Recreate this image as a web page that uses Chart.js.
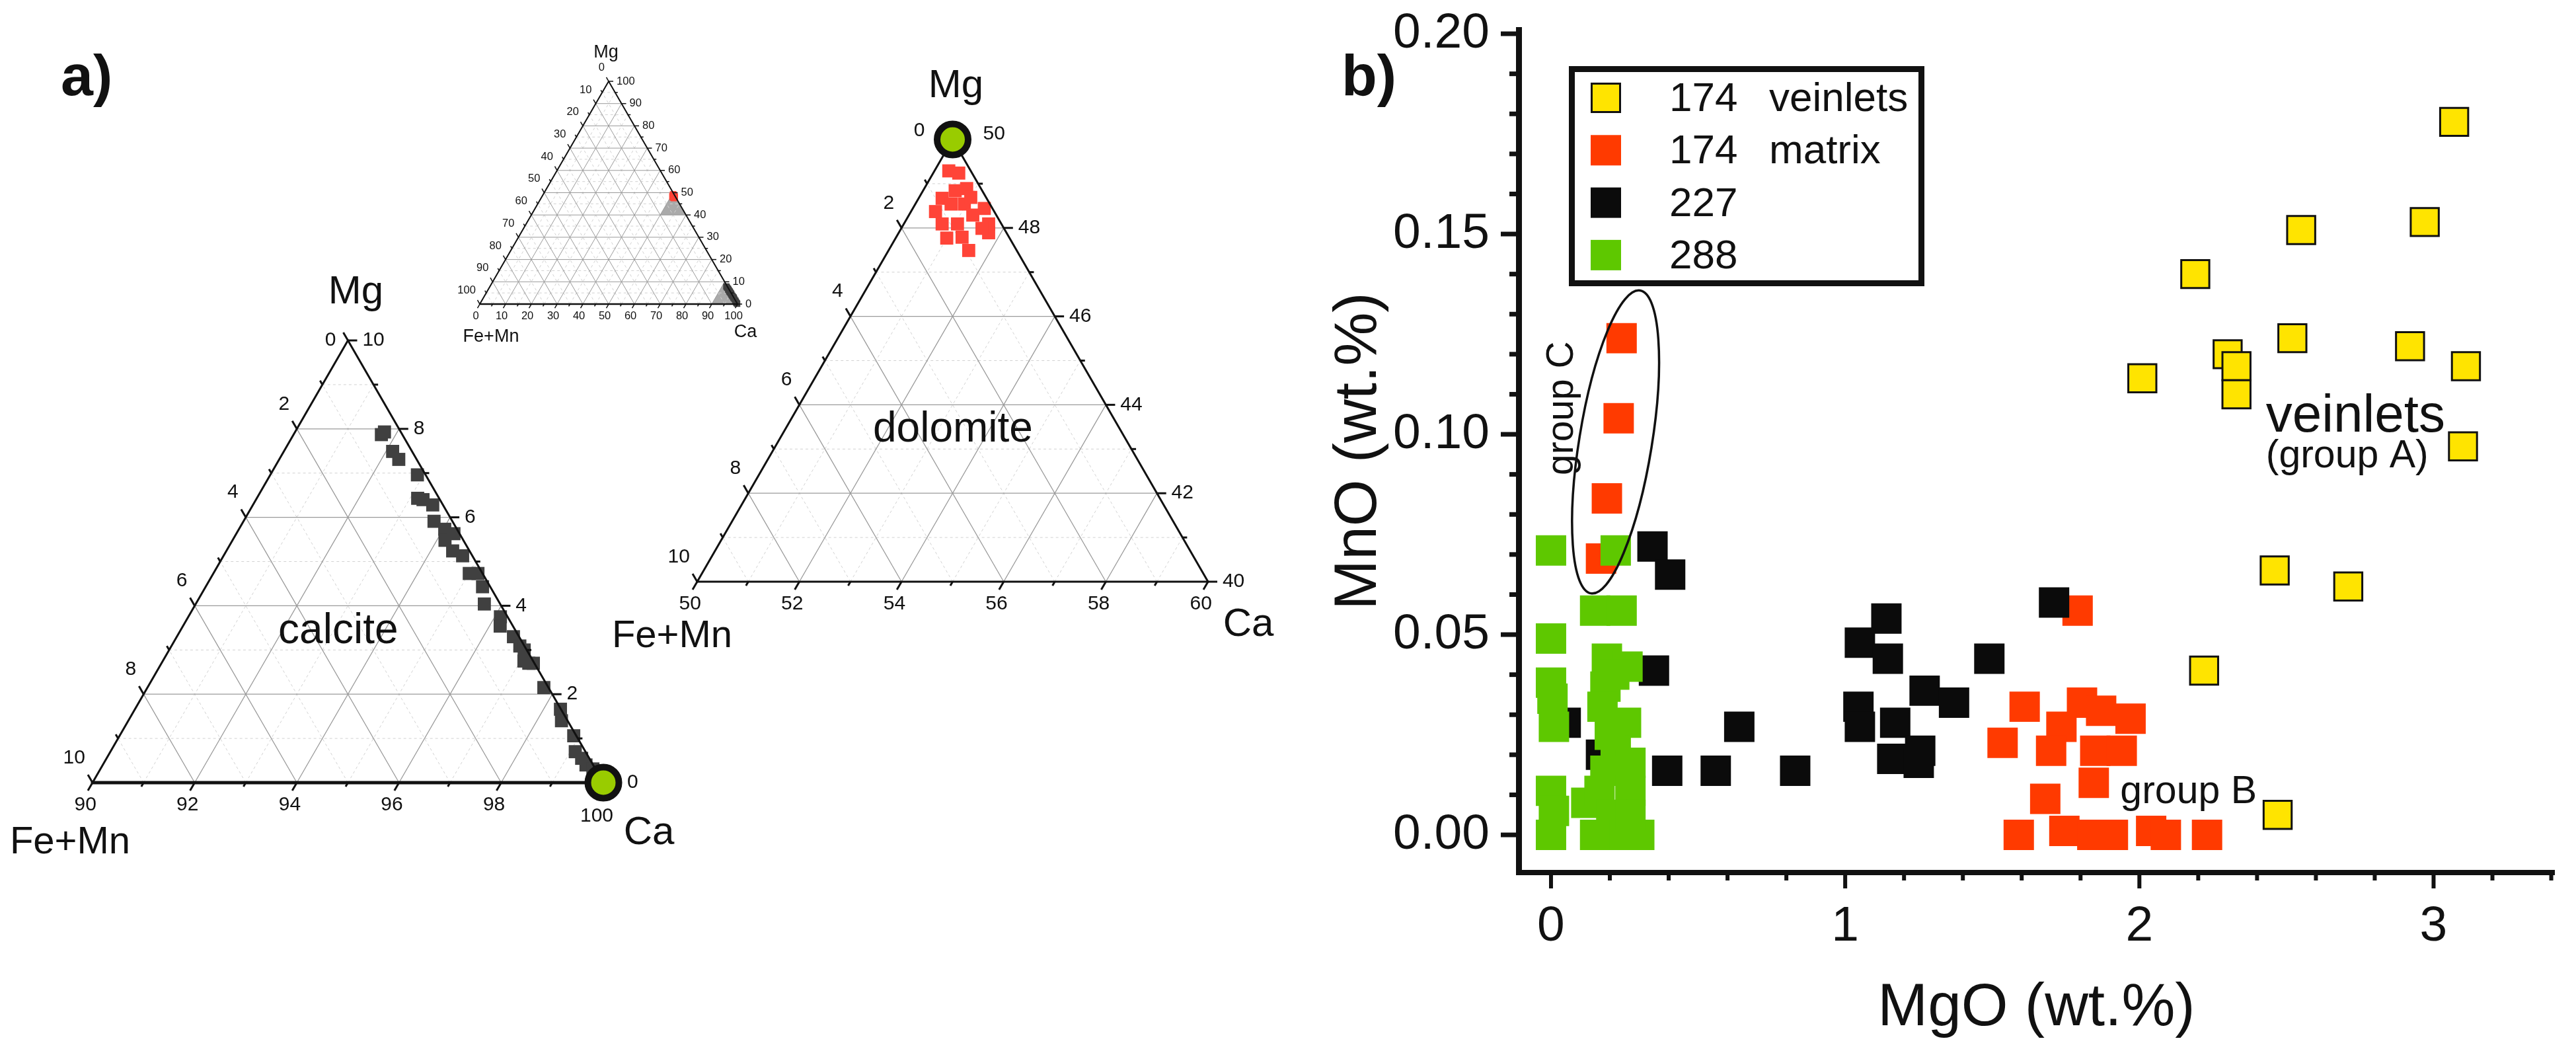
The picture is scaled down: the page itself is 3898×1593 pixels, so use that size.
<!DOCTYPE html>
<html lang="en">
<head>
<meta charset="utf-8">
<title>Carbonate composition</title>
<script src="https://cdn.jsdelivr.net/npm/chart.js@4.4.1/dist/chart.umd.min.js"></script>
<style>
  html, body { margin: 0; padding: 0; background: #fff; }
  body { position: relative; width: 3898px; height: 1593px; overflow: hidden;
         font-family: 'Liberation Sans', Arial, sans-serif; }
  canvas { position: absolute; }
  .panel-label { position: absolute; font-weight: bold; font-size: 88px; line-height: 1; color: #111; }
</style>
</head>
<body>
<div class="panel-label" style="left:92px; top:70px;">a)</div>
<div class="panel-label" style="left:2030px; top:70px;">b)</div>
<canvas id="insetChart" width="540" height="500" style="left:650px; top:40px;"></canvas>
<canvas id="dolomiteChart" width="1050" height="950" style="left:900px; top:60px;"></canvas>
<canvas id="calciteChart" width="1100" height="930" style="left:0px; top:400px;"></canvas>
<canvas id="scatterChart" width="1948" height="1593" style="left:1950px; top:0px;"></canvas>

<script>
// ---------- panel a: ternary compositions (Ca = 100 - Mg - FeMn) ----------
const calciteMg   = [7.87, 7.93, 7.49, 7.31, 6.96, 6.43, 6.40, 6.28, 5.91, 5.73, 5.48, 5.63, 5.24, 5.13, 4.73, 4.73, 4.43, 4.04,
                     3.75, 3.54, 3.30, 3.09, 3.00, 2.70, 2.15, 2.75, 2.70, 1.66, 1.40, 1.06, 0.70, 0.55, 0.40, 0.31, 0.20, 0.10];
const calciteFeMn = [0.41, 0.32, 0.38, 0.35, 0.16, 0.42, 0.33, 0.20, 0.36, 0.24, 0.36, 0.11, 0.33, 0.19, 0.26, 0.09, 0.15, 0.31,
                     0.14, 0.25, 0.11, 0.09, 0.05, 0.11, 0.09, 0.18, 0.02, 0.01, 0.12, 0.05, 0.20, 0.15, 0.14, 0.05, 0.08, 0.04];
const dolomiteMg   = [49.29, 49.24, 48.84, 48.89, 48.67, 48.37, 48.54, 48.54, 48.69, 48.44, 48.09, 47.89, 47.99, 48.09, 47.77, 47.79, 47.49, 48.09, 48.29];
const dolomiteFeMn = [0.43, 0.26, 0.53, 0.28, 0.87, 1.15, 0.76, 0.50, 0.30, 0.16, 0.25, 0.35, 0.43, 1.16, 1.23, 0.92, 0.94, 0.86, 0.46];
// ideal end-members (green circles)
const endCalciteMg = 0,  endCalciteFeMn = 0;
const endDolomiteMg = 50, endDolomiteFeMn = 0;

// ---------- panel b: MgO vs MnO (wt.%) ----------
const veinletsMgO = [3.07, 2.97, 2.55, 2.19, 2.52, 2.92, 2.30, 2.33, 2.33, 2.01, 3.11, 3.10, 2.46, 2.71, 2.22, 2.47];
const veinletsMnO = [0.178, 0.153, 0.151, 0.140, 0.124, 0.122, 0.120, 0.117, 0.110, 0.114, 0.117, 0.097, 0.066, 0.062, 0.041, 0.005];
const matrixMgO = [0.24, 0.23, 0.19, 0.17, 1.79, 1.61, 1.535, 1.805, 1.87, 1.97, 1.735, 1.70, 1.85, 1.94, 1.845, 1.68, 1.59, 1.745, 1.84, 1.91, 2.04, 2.09, 2.23];
const matrixMnO = [0.124, 0.104, 0.084, 0.069, 0.056, 0.032, 0.023, 0.033, 0.031, 0.029, 0.027, 0.021, 0.021, 0.021, 0.013, 0.009, 0.0, 0.001, 0.0, 0.0, 0.001, 0.0, 0.0];
const s227MgO = [0.345, 0.405, 1.14, 1.05, 1.145, 1.49, 1.71, 0.35, 1.27, 1.37, 1.045, 1.05, 1.17, 0.64, 0.05, 1.16, 1.255, 1.25, 0.395, 0.56, 0.83, 0.17];
const s227MnO = [0.072, 0.065, 0.054, 0.048, 0.044, 0.044, 0.058, 0.041, 0.036, 0.033, 0.032, 0.027, 0.028, 0.027, 0.028, 0.019, 0.021, 0.018, 0.016, 0.016, 0.016, 0.020];
const s288MgO = [0.0, 0.22, 0.15, 0.24, 0.0, 0.19, 0.26, 0.185, 0.0, 0.005, 0.01, 0.175, 0.255, 0.22, 0.27, 0.185, 0.0, 0.01, 0.0, 0.12,
                 0.165, 0.27, 0.205, 0.15, 0.25, 0.30, 0.27, 0.215, 0.20];
const s288MnO = [0.071, 0.071, 0.056, 0.056, 0.049, 0.044, 0.042, 0.037, 0.038, 0.034, 0.027, 0.032, 0.028, 0.021, 0.018, 0.016, 0.011, 0.006, 0.0, 0.008,
                 0.011, 0.011, 0.005, 0.0, 0.0, 0.0, 0.005, 0.040, 0.025];
const seriesNames = ['174', '174', '227', '288'];
const seriesNotes = ['veinlets', 'matrix', '', ''];
const mgoTicks = [0, 1, 2, 3];
const mnoTicks = [0, 0.05, 0.10, 0.15, 0.20];

const FONT = "'Liberation Sans', Arial, sans-serif";
const H = Math.sqrt(3) / 2;

// ---------- ternary helpers ----------
function ternXY(cfg, mg, femn) {
  const m = (mg - cfg.mg0) / cfg.span;
  const f = (femn - cfg.fm0) / cfg.span;
  return {x: 1 - m - f + m / 2, y: m * H};
}
function toPx(chart, x, y) {
  return [chart.scales.x.getPixelForValue(x), chart.scales.y.getPixelForValue(y)];
}
function seg(ctx, a, b) {
  ctx.beginPath(); ctx.moveTo(a[0], a[1]); ctx.lineTo(b[0], b[1]); ctx.stroke();
}

function drawGrid(chart, cfg) {
  const ctx = chart.ctx;
  ctx.save();
  (cfg.shades || []).forEach(s => {
    ctx.fillStyle = '#aaaaaa';
    ctx.beginPath();
    [[s.mg0 + s.span, s.fm0], [s.mg0, s.fm0 + s.span], [s.mg0, s.fm0]].forEach((c, i) => {
      const q = ternXY(cfg, c[0], c[1]);
      const p = toPx(chart, q.x, q.y);
      if (i) ctx.lineTo(p[0], p[1]); else ctx.moveTo(p[0], p[1]);
    });
    ctx.closePath(); ctx.fill();
  });
  const n = Math.round(cfg.span / cfg.minor), r = Math.round(cfg.major / cfg.minor);
  [false, true].forEach(majorPass => {
    for (let k = 1; k < n; k++) {
      const major = k % r === 0;
      if (major !== majorPass) continue;
      const t = k / n;
      ctx.strokeStyle = major ? '#9a9a9a' : '#d2d2d2';
      ctx.lineWidth = major ? cfg.gridWidth : 1;
      ctx.setLineDash(major ? [] : [4, 4]);
      seg(ctx, toPx(chart, t / 2, t * H), toPx(chart, 1 - t / 2, t * H));
      seg(ctx, toPx(chart, t, 0), toPx(chart, t + (1 - t) / 2, (1 - t) * H));
      seg(ctx, toPx(chart, 1 - t, 0), toPx(chart, (1 - t) / 2, (1 - t) * H));
    }
  });
  ctx.restore();
}

const tickSides = cfg => {
  const fs = cfg.tickFont;
  return [
    {key: 'b', base: cfg.ca0, at: t => [t, 0], dir: [-0.5, 0.866], align: 'center', off: [-0.36 * fs, 1.12 * fs]},
    {key: 'r', base: cfg.mg0, at: t => [1 - t / 2, t * H], dir: [1, 0], align: 'left', off: [0.73 * fs, 0]},
    {key: 'l', base: cfg.fm0, at: t => [(1 - t) / 2, (1 - t) * H], dir: [-0.5, -0.866], align: 'right', off: [-0.37 * fs, -1.25 * fs]}
  ];
};

// triangle edges and tick marks
function drawFrame(chart, cfg) {
  const ctx = chart.ctx;
  const A = toPx(chart, 0.5, H), L = toPx(chart, 0, 0), R = toPx(chart, 1, 0);
  const n = Math.round(cfg.span / cfg.minor), r = Math.round(cfg.major / cfg.minor);
  ctx.save();
  ctx.strokeStyle = '#111';
  ctx.lineWidth = cfg.tickWidth;
  tickSides(cfg).forEach(s => {
    for (let k = 0; k <= n; k++) {
      const p = toPx(chart, ...s.at(k / n));
      const len = k % r === 0 ? cfg.tickLen[0] : cfg.tickLen[1];
      seg(ctx, p, [p[0] + s.dir[0] * len, p[1] + s.dir[1] * len]);
    }
  });
  ctx.lineCap = 'round';
  ctx.lineWidth = cfg.edgeWidth[0]; seg(ctx, L, A);
  ctx.lineWidth = cfg.edgeWidth[1]; seg(ctx, A, R);
  ctx.lineWidth = cfg.edgeWidth[2]; seg(ctx, L, R);
  ctx.restore();
}

// tick labels, corner titles, field name
function drawLabels(chart, cfg) {
  const ctx = chart.ctx;
  const n = Math.round(cfg.span / cfg.minor), r = Math.round(cfg.major / cfg.minor);
  ctx.save();
  ctx.fillStyle = '#111';
  ctx.font = cfg.tickFont + 'px ' + FONT; ctx.textBaseline = 'middle';
  tickSides(cfg).forEach(s => {
    for (let k = 0; k <= n; k += r) {
      const t = k / n;
      const p = toPx(chart, ...s.at(t));
      const val = Math.round(s.base + t * cfg.span);
      const o = cfg.overrides[s.key + val] || s.off;
      ctx.textAlign = s.align;
      ctx.fillText(String(val), p[0] + o[0], p[1] + o[1]);
    }
  });
  const corners = {apex: toPx(chart, 0.5, H), bl: toPx(chart, 0, 0), br: toPx(chart, 1, 0)};
  ctx.textAlign = 'center';
  cfg.titles.forEach(tt => {
    ctx.font = tt.size + 'px ' + FONT;
    const c = corners[tt.corner];
    ctx.fillText(tt.text, c[0] + tt.dx, c[1] + tt.dy);
  });
  if (cfg.inner) {
    ctx.font = cfg.inner.size + 'px ' + FONT;
    const p = toPx(chart, cfg.inner.x, cfg.inner.y);
    ctx.fillText(cfg.inner.text, p[0], p[1]);
  }
  ctx.restore();
}

function ternaryPlugin(cfg) {
  return {
    id: 'ternary',
    beforeDraw(chart) { chart.$frameDone = false; },
    beforeDatasetsDraw(chart) { drawGrid(chart, cfg); },
    beforeDatasetDraw(chart, args) {
      if (chart.data.datasets[args.index].frameBefore && !chart.$frameDone) {
        drawFrame(chart, cfg); chart.$frameDone = true;
      }
    },
    afterDatasetsDraw(chart) {
      if (!chart.$frameDone) { drawFrame(chart, cfg); chart.$frameDone = true; }
    },
    afterDraw(chart) { drawLabels(chart, cfg); }
  };
}

function makeTernary(id, cfg, datasets, padding) {
  return new Chart(document.getElementById(id), {
    type: 'scatter',
    data: {datasets},
    options: {
      responsive: false,
      animation: false,
      events: [],
      layout: {padding},
      scales: {
        x: {type: 'linear', min: 0, max: 1, display: false},
        y: {type: 'linear', min: 0, max: H, display: false}
      },
      plugins: {legend: {display: false}, tooltip: {enabled: false}}
    },
    plugins: [ternaryPlugin(cfg)]
  });
}

function squares(cfg, mgArr, fmArr, color, radius) {
  return {
    data: mgArr.map((mg, i) => ternXY(cfg, mg, fmArr[i])),
    pointStyle: 'rect', pointRadius: radius, pointBackgroundColor: color,
    pointBorderWidth: 0, showLine: false, clip: false, order: 1
  };
}
function endMember(cfg, mg, femn) {
  return {
    data: [ternXY(cfg, mg, femn)],
    pointStyle: 'circle', pointRadius: 23.5, pointBackgroundColor: '#99cc00',
    pointBorderColor: '#111', pointBorderWidth: 10, showLine: false, clip: false, order: 0, frameBefore: true
  };
}

const CAL = {
  ca0: 90, mg0: 0, fm0: 0, span: 10, major: 2, minor: 1,
  tickFont: 30, tickLen: [14, 7], tickWidth: 3, edgeWidth: [3, 3, 5], gridWidth: 1.3,
  overrides: {l0: [-18, 0], r0: [36, 0], b100: [-10, 51]},
  titles: [
    {text: 'Mg', corner: 'apex', dx: 12, dy: -73, size: 60},
    {text: 'Fe+Mn', corner: 'bl', dx: -34, dy: 91, size: 58},
    {text: 'Ca', corner: 'br', dx: 69, dy: 76, size: 60}
  ],
  inner: {text: 'calcite', x: 0.481, y: 0.296, size: 64}
};
const DOL = {
  ca0: 50, mg0: 40, fm0: 0, span: 10, major: 2, minor: 1,
  tickFont: 30, tickLen: [14, 7], tickWidth: 3, edgeWidth: [3, 3, 3], gridWidth: 1.3,
  overrides: {l0: [-42, -13], r50: [46, -8]},
  titles: [
    {text: 'Mg', corner: 'apex', dx: 5, dy: -81, size: 60},
    {text: 'Fe+Mn', corner: 'bl', dx: -38, dy: 83, size: 58},
    {text: 'Ca', corner: 'br', dx: 61, dy: 65, size: 60}
  ],
  inner: {text: 'dolomite', x: 0.5006, y: 0.2977, size: 64}
};
const INSET = {
  ca0: 0, mg0: 0, fm0: 0, span: 100, major: 10, minor: 5,
  tickFont: 16.5, tickLen: [7, 4], tickWidth: 1.5, edgeWidth: [2, 2, 2.5], gridWidth: 1,
  overrides: {},
  titles: [
    {text: 'Mg', corner: 'apex', dx: -4, dy: -43, size: 27},
    {text: 'Fe+Mn', corner: 'bl', dx: 17, dy: 50, size: 27},
    {text: 'Ca', corner: 'br', dx: 12, dy: 43, size: 27}
  ],
  shades: [DOL, CAL]
};

makeTernary('calciteChart', CAL, [
  squares(CAL, calciteMg, calciteFeMn, '#404040', 14),
  endMember(CAL, endCalciteMg, endCalciteFeMn)
], {left: 140, top: 115, right: 187, bottom: 146});

makeTernary('dolomiteChart', DOL, [
  squares(DOL, dolomiteMg, dolomiteFeMn, '#ff4438', 14),
  endMember(DOL, endDolomiteMg, endDolomiteFeMn)
], {left: 155, top: 151, right: 122, bottom: 130});

makeTernary('insetChart', INSET, [
  squares(INSET, dolomiteMg, dolomiteFeMn, '#ff4438', 6.5),
  squares(INSET, calciteMg, calciteFeMn, '#404040', 6.5)
], {left: 76, top: 83, right: 74, bottom: 80});

// ---------- panel b ----------
function pairs(xs, ys) { return xs.map((x, i) => ({x, y: ys[i]})); }

const groupCEllipse = {ends: [[0.136, 0.0603], [0.303, 0.1359]], halfWidth: 55};
const notes = [
  {text: 'group C', x: 0.039, y: 0.1065, size: 57, rotate: true},
  {text: 'veinlets', x: 2.43, y: 0.1007, size: 80},
  {text: '(group A)', x: 2.43, y: 0.0918, size: 59},
  {text: 'group B', x: 1.935, y: 0.0080, size: 59}
];

const scatterDecor = {
  id: 'scatterDecor',
  afterDraw(chart) {
    const {ctx, chartArea, scales: {x, y}} = chart;
    ctx.save();
    ctx.strokeStyle = '#111'; ctx.fillStyle = '#111';
    // minor + major tick marks
    ctx.lineWidth = 7;
    for (let k = 0; k <= 20; k++) {
      const py = y.getPixelForValue(k * 0.01);
      const len = k % 5 === 0 ? 27 : 14;
      seg(ctx, [chartArea.left, py], [chartArea.left - len, py]);
    }
    ctx.lineWidth = 6;
    for (let k = 0; k <= 17; k++) {
      const px = x.getPixelForValue(k * 0.2);
      if (px > chartArea.right + 2) break;
      const len = k % 5 === 0 ? 24 : 12;
      seg(ctx, [px, chartArea.bottom], [px, chartArea.bottom + len]);
    }
    // legend
    const bx = chartArea.left + 76, by = 100, bw = 538, bh = 333;
    ctx.lineWidth = 9;
    ctx.strokeRect(bx + 4.5, by + 4.5, bw - 9, bh - 9);
    ctx.font = '62px ' + FONT; ctx.textBaseline = 'middle'; ctx.textAlign = 'left';
    chart.data.datasets.forEach((ds, i) => {
      const cy = 148 + i * 79.3, mx = bx + 33, ms = 46;
      ctx.fillStyle = ds.pointBackgroundColor;
      ctx.fillRect(mx, cy - ms / 2, ms, ms);
      if (ds.pointBorderWidth) { ctx.lineWidth = 3; ctx.strokeRect(mx + 1.5, cy - ms / 2 + 1.5, ms - 3, ms - 3); }
      ctx.fillStyle = '#111';
      ctx.fillText(seriesNames[i], bx + 152, cy + 3);
      if (seriesNotes[i]) ctx.fillText(seriesNotes[i], bx + 303, cy + 3);
    });
    // group C ellipse
    const e0 = [x.getPixelForValue(groupCEllipse.ends[0][0]), y.getPixelForValue(groupCEllipse.ends[0][1])];
    const e1 = [x.getPixelForValue(groupCEllipse.ends[1][0]), y.getPixelForValue(groupCEllipse.ends[1][1])];
    const len = Math.hypot(e1[0] - e0[0], e1[1] - e0[1]) / 2;
    ctx.lineWidth = 3.5;
    ctx.beginPath();
    ctx.ellipse((e0[0] + e1[0]) / 2, (e0[1] + e1[1]) / 2, len, groupCEllipse.halfWidth,
                Math.atan2(e1[1] - e0[1], e1[0] - e0[0]), 0, Math.PI * 2);
    ctx.stroke();
    // annotations
    notes.forEach(n => {
      const px = x.getPixelForValue(n.x), py = y.getPixelForValue(n.y);
      ctx.font = n.size + 'px ' + FONT;
      ctx.save();
      ctx.translate(px, py);
      if (n.rotate) { ctx.rotate(-Math.PI / 2); ctx.textAlign = 'center'; ctx.textBaseline = 'middle'; }
      else { ctx.textAlign = 'left'; ctx.textBaseline = 'alphabetic'; }
      ctx.fillText(n.text, 0, 0);
      ctx.restore();
    });
    ctx.restore();
  }
};

new Chart(document.getElementById('scatterChart'), {
  type: 'scatter',
  data: {
    datasets: [
      {label: '174 veinlets', data: pairs(veinletsMgO, veinletsMnO), pointStyle: 'rect', pointRadius: 30,
       pointBackgroundColor: '#ffe400', pointBorderColor: '#111', pointBorderWidth: 3, order: 0},
      {label: '174 matrix', data: pairs(matrixMgO, matrixMnO), pointStyle: 'rect', pointRadius: 32.5,
       pointBackgroundColor: '#ff3a00', pointBorderWidth: 0, order: 3},
      {label: '227', data: pairs(s227MgO, s227MnO), pointStyle: 'rect', pointRadius: 32.5,
       pointBackgroundColor: '#0b0b0b', pointBorderWidth: 0, order: 2},
      {label: '288', data: pairs(s288MgO, s288MnO), pointStyle: 'rect', pointRadius: 32.5,
       pointBackgroundColor: '#5ec800', pointBorderWidth: 0, order: 1}
    ]
  },
  options: {
    responsive: false,
    animation: false,
    events: [],
    layout: {padding: {top: 45, left: 0, right: 0, bottom: 0}},
    plugins: {legend: {display: false}, tooltip: {enabled: false}},
    scales: {
      x: {
        type: 'linear', min: -0.11, max: 3.41,
        afterBuildTicks: s => { s.ticks = mgoTicks.map(v => ({value: v})); },
        afterFit: s => { s.height = 273; s.paddingLeft = 0; s.paddingRight = 0; },
        grid: {display: false},
        border: {display: true, width: 8, color: '#111'},
        ticks: {color: '#111', font: {family: FONT, size: 75, lineHeight: 1}, padding: 37, maxRotation: 0, autoSkip: false,
                callback: v => String(v)},
        title: {display: true, text: 'MgO (wt.%)', color: '#111', font: {family: FONT, size: 91, lineHeight: 1},
                padding: {top: 0, bottom: 22}}
      },
      y: {
        type: 'linear', min: -0.0094, max: 0.201,
        afterBuildTicks: s => { s.ticks = mnoTicks.map(v => ({value: v})); },
        afterFit: s => { s.width = 348; s.paddingTop = 0; s.paddingBottom = 0; },
        grid: {display: false},
        border: {display: true, width: 9, color: '#111'},
        ticks: {color: '#111', font: {family: FONT, size: 75, lineHeight: 1}, padding: 36, autoSkip: false,
                callback: v => v.toFixed(2)},
        title: {display: true, text: 'MnO (wt.%)', color: '#111', font: {family: FONT, size: 91, lineHeight: 1},
                padding: {top: 61, bottom: 0}}
      }
    }
  },
  plugins: [scatterDecor]
});
</script>
</body>
</html>
